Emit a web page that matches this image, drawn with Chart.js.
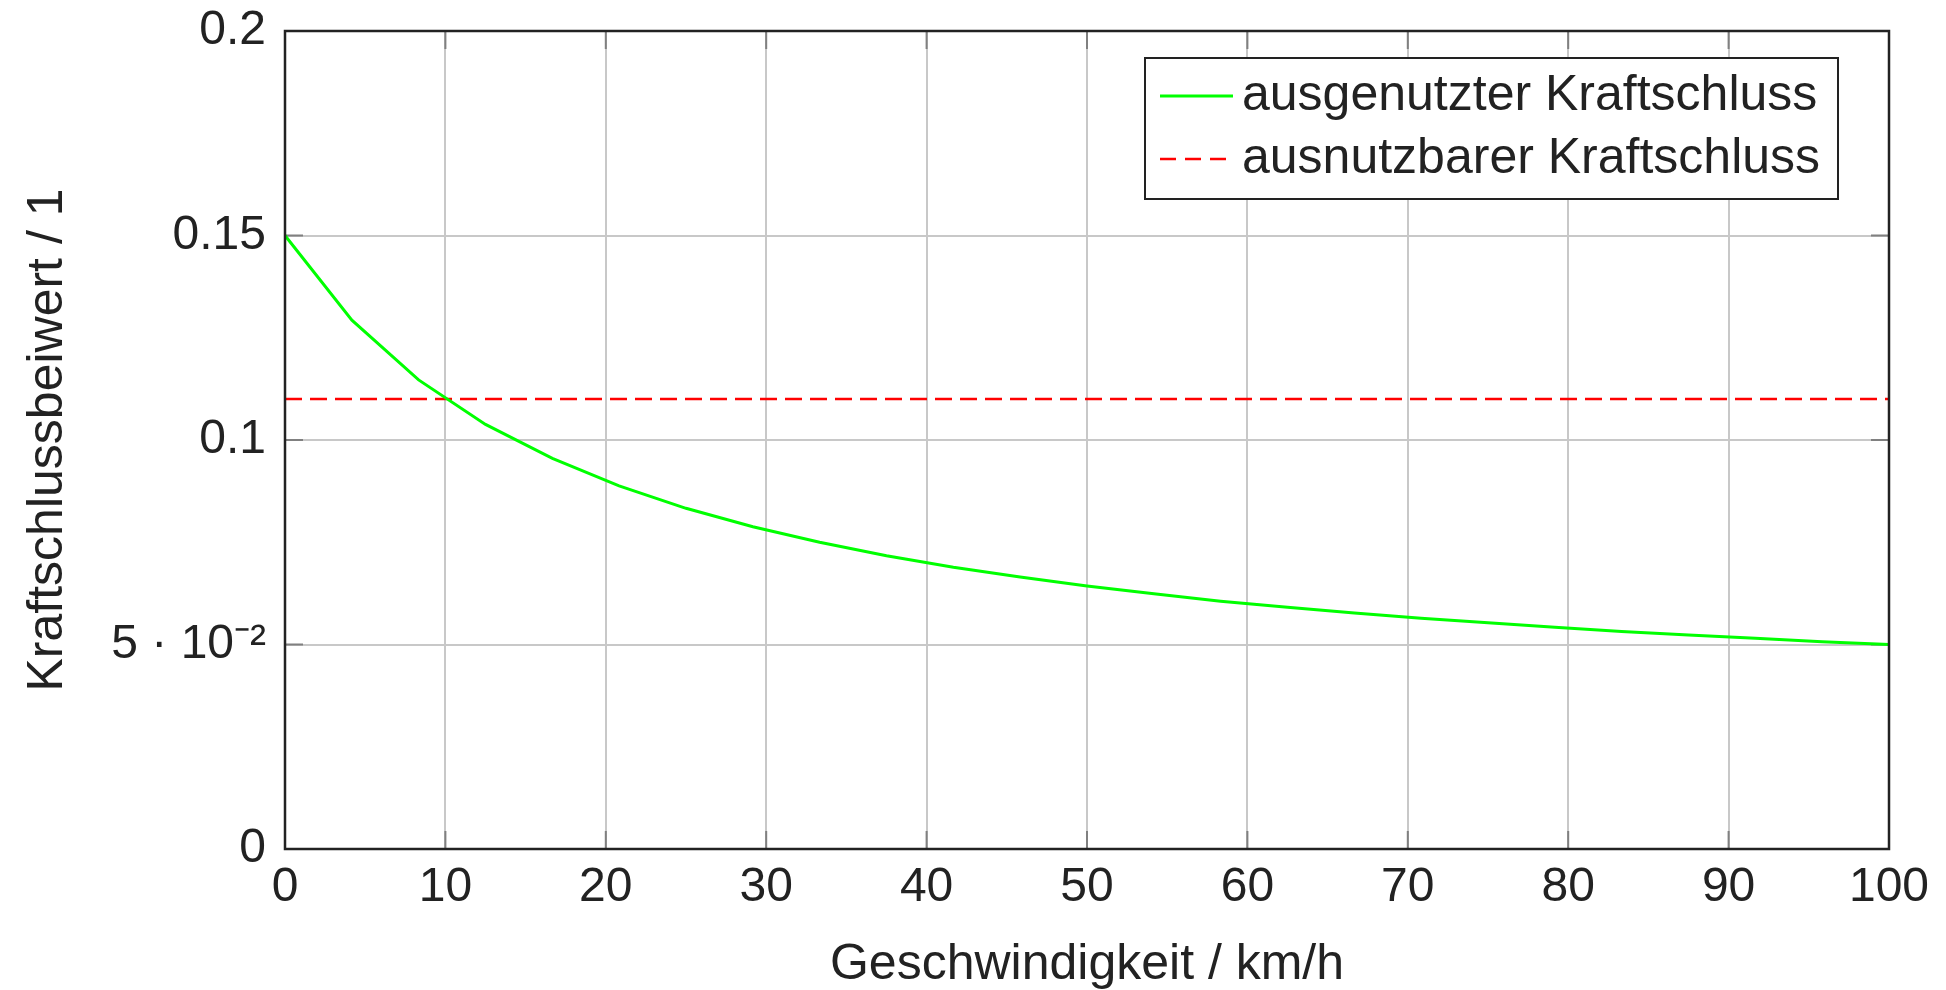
<!DOCTYPE html>
<html lang="de">
<head>
  <meta charset="UTF-8" />
  <title>Kraftschluss</title>
  <script src="https://cdn.jsdelivr.net/npm/chart.js"></script>
  <style>
    body {
      margin: 0;
      padding: 0;
      background: white;
      font-family: 'Liberation Sans', Arial, sans-serif;
    }
    #wrap {
      position: relative;
      width: 1946px;
      height: 990px;
    }
    #legende {
      position: absolute;
      left: 1144px;
      top: 57px;
      width: 695px;
      height: 143px;
      box-sizing: border-box;
      border: 2px solid #222;
      background: white;
      padding-top: 3px;
      color: #222;
      font-size: 50px;
    }
    .zeile {
      position: relative;
      height: 63px;
      line-height: 63px;
    }
    .zeile svg {
      position: absolute;
      left: 12px;
      top: 0;
    }
    .zeile span {
      position: absolute;
      left: 96px;
      top: 0;
      white-space: nowrap;
    }
  </style>
</head>
<body>
  <div id="wrap">
    <canvas id="grafik" width="1946" height="990"></canvas>
    <div id="legende">
      <div class="zeile">
        <svg width="76" height="63"><line x1="2" y1="34" x2="75" y2="34" stroke="#00ff00" stroke-width="3" /></svg>
        <span>ausgenutzter Kraftschluss</span>
      </div>
      <div class="zeile">
        <svg width="76" height="63"><line x1="2" y1="34" x2="68" y2="34" stroke="#ff0000" stroke-width="2.5" stroke-dasharray="16 9" /></svg>
        <span>ausnutzbarer Kraftschluss</span>
      </div>
    </div>
  </div>
  <script>
    // Geschwindigkeit in km/h
    const geschwindigkeit = [0, 4.17, 8.33, 12.5, 16.67, 20.83, 25, 29.17, 33.33, 37.5,
      41.67, 45.83, 50, 54.17, 58.33, 62.5, 66.67, 70.83, 75, 79.17,
      83.33, 87.5, 91.67, 95.83, 100];
    const ausgenutzt = [0.15, 0.1293, 0.1147, 0.1038, 0.0955, 0.0888, 0.0833, 0.0788, 0.075, 0.0717,
      0.0689, 0.0665, 0.0643, 0.0624, 0.0606, 0.0591, 0.0577, 0.0564, 0.0553, 0.0542,
      0.0532, 0.0523, 0.0515, 0.0507, 0.05];
    const ausnutzbarX = [0, 100];
    const ausnutzbar = [0.11, 0.11];

    const yTicks = [0, 0.05, 0.1, 0.15, 0.2];
    const yTickTexte = ['0', '5 · 10⁻²', '0.1', '0.15', '0.2'];

    const schrift = "'Liberation Sans', Arial, sans-serif";
    Chart.defaults.font.family = schrift;
    Chart.defaults.color = '#222';

    // Rahmen und nach innen zeigende Striche
    const rahmen = {
      id: 'rahmen',
      beforeDatasetsDraw(chart) {
        const { ctx, chartArea: a, scales } = chart;
        ctx.save();
        ctx.strokeStyle = '#808080';
        ctx.lineWidth = 2;
        ctx.beginPath();
        scales.x.ticks.forEach(t => {
          const px = scales.x.getPixelForValue(t.value);
          ctx.moveTo(px, a.bottom); ctx.lineTo(px, a.bottom - 18);
          ctx.moveTo(px, a.top); ctx.lineTo(px, a.top + 18);
        });
        scales.y.ticks.forEach(t => {
          const py = scales.y.getPixelForValue(t.value);
          ctx.moveTo(a.left, py); ctx.lineTo(a.left + 18, py);
          ctx.moveTo(a.right, py); ctx.lineTo(a.right - 18, py);
        });
        ctx.stroke();
        ctx.restore();
      },
      afterDatasetsDraw(chart) {
        const { ctx, chartArea: a } = chart;
        ctx.save();
        ctx.strokeStyle = '#222';
        ctx.lineWidth = 2.5;
        ctx.strokeRect(a.left, a.top, a.right - a.left, a.bottom - a.top);
        ctx.restore();
      }
    };

    new Chart(document.getElementById('grafik'), {
      type: 'line',
      data: {
        datasets: [
          {
            label: 'ausgenutzter Kraftschluss',
            data: geschwindigkeit.map((v, i) => ({ x: v, y: ausgenutzt[i] })),
            borderColor: '#00ff00',
            borderWidth: 3,
            pointRadius: 0,
            tension: 0,
            clip: 4
          },
          {
            label: 'ausnutzbarer Kraftschluss',
            data: ausnutzbarX.map((v, i) => ({ x: v, y: ausnutzbar[i] })),
            borderColor: '#ff0000',
            borderWidth: 2.5,
            borderDash: [17, 8],
            pointRadius: 0,
            clip: 4
          }
        ]
      },
      options: {
        responsive: false,
        animation: false,
        devicePixelRatio: 1,
        layout: { padding: { left: 0, top: 31, right: 57, bottom: 0 } },
        plugins: {
          legend: { display: false },
          tooltip: { enabled: false }
        },
        scales: {
          x: {
            type: 'linear',
            min: 0,
            max: 100,
            afterFit(scale) { scale.height = 141; },
            ticks: {
              stepSize: 10,
              padding: 15,
              font: { size: 48, lineHeight: 1 },
              maxRotation: 0
            },
            grid: { color: '#c8c8c8', lineWidth: 2, drawTicks: false },
            border: { display: false },
            title: {
              display: true,
              text: 'Geschwindigkeit / km/h',
              font: { size: 50, lineHeight: 1 },
              padding: { top: 0, bottom: 0 }
            }
          },
          y: {
            min: 0,
            max: 0.2,
            afterFit(scale) { scale.width = 285; },
            afterBuildTicks(scale) { scale.ticks = yTicks.map(v => ({ value: v })); },
            ticks: {
              padding: 19,
              font: { size: 48, lineHeight: 0.4 },
              callback: (value, index) => yTickTexte[index]
            },
            grid: { color: '#c8c8c8', lineWidth: 2, drawTicks: false },
            border: { display: false },
            title: {
              display: true,
              text: 'Kraftschlussbeiwert / 1',
              font: { size: 50, lineHeight: 1 },
              padding: { top: 23, bottom: 0 }
            }
          }
        }
      },
      plugins: [rahmen]
    });
  </script>
</body>
</html>
